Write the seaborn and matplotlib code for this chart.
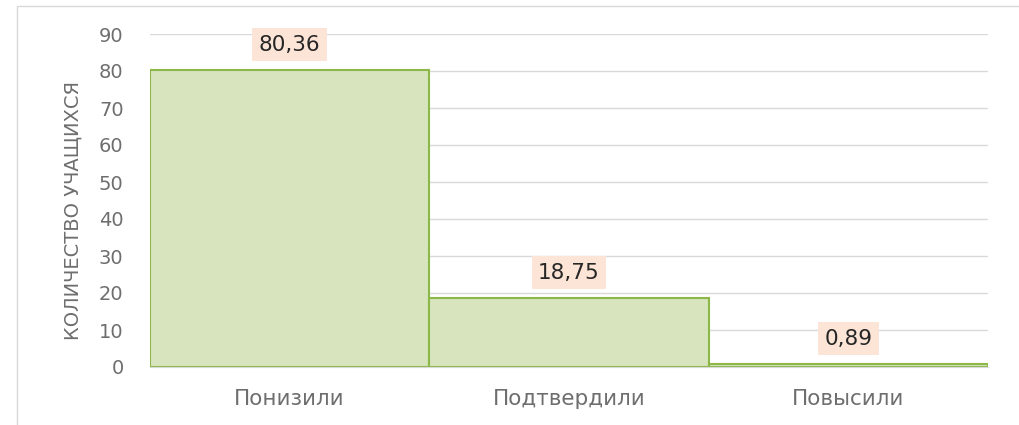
import numpy as np
import pandas as pd
import matplotlib.pyplot as plt
import seaborn as sns
from matplotlib.patches import Rectangle

# Data
categories = ["Понизили", "Подтвердили", "Повысили"]
values = [80.36, 18.75, 0.89]
y_label = "КОЛИЧЕСТВО УЧАЩИХСЯ"

df = pd.DataFrame({"cat": categories, "val": values})

sns.set_style("white")
plt.rcParams["font.family"] = ["DejaVu Sans"]

fig = plt.figure(figsize=(10.19, 4.25), dpi=100)
ax = fig.add_axes([150 / 1019, 1 - 367 / 425, (988 - 150) / 1019, (367 - 34) / 425])

sns.barplot(data=df, x="cat", y="val", ax=ax, width=1.0,
            color="#D7E4BD", edgecolor="#8CB84A", linewidth=1.5, saturation=1)

ax.set_ylim(0, 90)
ax.set_yticks(np.arange(0, 91, 10))
ax.set_xlim(-0.5, 2.5)
ax.yaxis.grid(True, color="#D9D9D9", linewidth=1)
ax.set_axisbelow(True)
for s in ["top", "right", "left"]:
    ax.spines[s].set_visible(False)
ax.spines["bottom"].set_color("#D9D9D9")
ax.tick_params(axis="both", length=0, colors="#6E6E6E", labelsize=14)
ax.tick_params(axis="x", pad=16, labelsize=15.5)
ax.tick_params(axis="y", pad=19)
ax.set_xlabel("")
ax.set_ylabel(y_label, color="#6E6E6E", fontsize=14, labelpad=12, y=0.47)

for i, v in enumerate(values):
    ax.annotate(f"{v:.2f}".replace(".", ","), (i, v), xytext=(0, 25),
                textcoords="offset pixels", ha="center", va="center",
                fontsize=15.5, color="#262626",
                bbox=dict(boxstyle="square,pad=0.3", fc="#FCE4D6", ec="none"))

# light frame of the chart area
fig.patches.append(Rectangle((17 / 1019, -0.05), 1.1, 1 - 6 / 425 + 0.05,
                             transform=fig.transFigure, fill=False,
                             edgecolor="#D9D9D9", linewidth=1))

fig.savefig("out.png", dpi=100)
